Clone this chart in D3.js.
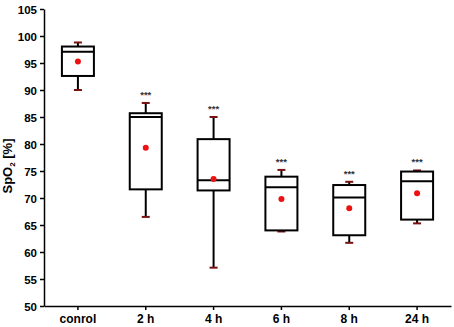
<!DOCTYPE html>
<html>
<head>
<meta charset="utf-8">
<script src="https://cdn.jsdelivr.net/npm/d3@7"></script>
<style>
  body { margin: 0; background: #fff; }
  text { font-family: "Liberation Sans", Arial, sans-serif; }
</style>
</head>
<body>
<div id="chart"></div>
<script>
// groups on the x axis
var groups = ['conrol', '2 h', '4 h', '6 h', '8 h', '24 h'];
// box plot stats
var whisker_low = [90.0, 66.5, 57.1, 63.8, 61.7, 65.3];
var q1 = [92.6, 71.6, 71.4, 64.0, 63.1, 66.0];
var median = [97.1, 85.0, 73.3, 72.0, 70.1, 73.1];
var q3 = [98.05, 85.7, 80.9, 73.95, 72.4, 74.9];
var whisker_high = [98.8, 87.6, 85.0, 75.2, 73.0, 75.1];
var mean = [95.3, 79.3, 73.5, 69.8, 68.1, 70.9];
var signif = ['', '***', '***', '***', '***', '***'];
var y_ticks = [50, 55, 60, 65, 70, 75, 80, 85, 90, 95, 100, 105];

var chart_width = 454;
var chart_height = 327;
var pad_left = 44, pad_right = 451, pad_top = 9, pad_bottom = 306;

var data = groups.map(function(g, i) {
  return {
    name: g, lo: whisker_low[i], q1: q1[i], med: median[i],
    q3: q3[i], hi: whisker_high[i], mean: mean[i], sig: signif[i]
  };
});

var svg = d3.select('#chart')
  .append('svg')
  .attr('width', chart_width)
  .attr('height', chart_height);

var x_scale = d3.scaleBand()
  .domain(groups)
  .range([pad_left, pad_right]);

var y_scale = d3.scaleLinear()
  .domain([50, 105])
  .range([pad_bottom, pad_top]);

// axes
var x_axis = d3.axisBottom(x_scale).tickSize(4).tickSizeOuter(0);
var gx = svg.append('g')
  .attr('transform', 'translate(0,' + pad_bottom + ')')
  .call(x_axis);

var y_axis = d3.axisLeft(y_scale).tickValues(y_ticks).tickSize(4).tickSizeOuter(0);
var gy = svg.append('g')
  .attr('transform', 'translate(' + pad_left + ',0)')
  .call(y_axis);

[gx, gy].forEach(function(g) {
  g.selectAll('path.domain').attr('stroke', '#000').attr('stroke-width', 1.5);
  g.selectAll('.tick line').attr('stroke', '#000').attr('stroke-width', 1.5);
  g.selectAll('.tick text')
    .attr('fill', '#000')
    .style('font-weight', 'bold')
    .style('font-family', '"Liberation Sans", Arial, sans-serif');
});
gy.selectAll('.tick text').attr('x', -7).attr('dy', '0.36em').style('font-size', '11.5px');
gx.selectAll('.tick text').attr('y', 8).attr('dy', '0.71em').style('font-size', '12px');

// y label
var ylab = svg.append('text')
  .attr('transform', 'translate(12,166) rotate(-90)')
  .attr('text-anchor', 'middle')
  .style('font-size', '13px')
  .style('font-weight', 'bold');
ylab.append('tspan').text('SpO');
ylab.append('tspan').text('2').attr('dy', 3).style('font-size', '8px');
ylab.append('tspan').text(' [%]').attr('dy', -3);

var bw = 32;
var cx = function(d) { return x_scale(d.name) + x_scale.bandwidth() / 2; };

var boxes = svg.append('g').selectAll('g')
  .data(data)
  .enter()
  .append('g');

// whiskers
boxes.append('line')
  .attr('x1', cx).attr('x2', cx)
  .attr('y1', function(d) { return y_scale(d.q3); })
  .attr('y2', function(d) { return y_scale(d.hi); })
  .attr('stroke', '#000').attr('stroke-width', 2);
boxes.append('line')
  .attr('x1', cx).attr('x2', cx)
  .attr('y1', function(d) { return y_scale(d.q1); })
  .attr('y2', function(d) { return y_scale(d.lo); })
  .attr('stroke', '#000').attr('stroke-width', 2);

// caps
['hi', 'lo'].forEach(function(k) {
  boxes.append('line')
    .attr('x1', function(d) { return cx(d) - 4; })
    .attr('x2', function(d) { return cx(d) + 4; })
    .attr('y1', function(d) { return y_scale(d[k]); })
    .attr('y2', function(d) { return y_scale(d[k]); })
    .attr('stroke', '#7a1010').attr('stroke-width', 2);
});

// box
boxes.append('rect')
  .attr('x', function(d) { return cx(d) - bw / 2; })
  .attr('y', function(d) { return y_scale(d.q3); })
  .attr('width', bw)
  .attr('height', function(d) { return y_scale(d.q1) - y_scale(d.q3); })
  .attr('fill', '#fff')
  .attr('stroke', '#000')
  .attr('stroke-width', 2);

// median
boxes.append('line')
  .attr('x1', function(d) { return cx(d) - bw / 2; })
  .attr('x2', function(d) { return cx(d) + bw / 2; })
  .attr('y1', function(d) { return y_scale(d.med); })
  .attr('y2', function(d) { return y_scale(d.med); })
  .attr('stroke', '#000').attr('stroke-width', 2);

// mean
boxes.append('circle')
  .attr('cx', cx)
  .attr('cy', function(d) { return y_scale(d.mean); })
  .attr('r', 3)
  .attr('fill', '#ee1111');

// significance stars
boxes.append('text')
  .text(function(d) { return d.sig; })
  .attr('x', cx)
  .attr('y', function(d) { return y_scale(d.hi) - 5; })
  .attr('text-anchor', 'middle')
  .attr('fill', '#333')
  .style('font-size', '9.5px')
  .style('font-weight', 'bold');
</script>
</body>
</html>
